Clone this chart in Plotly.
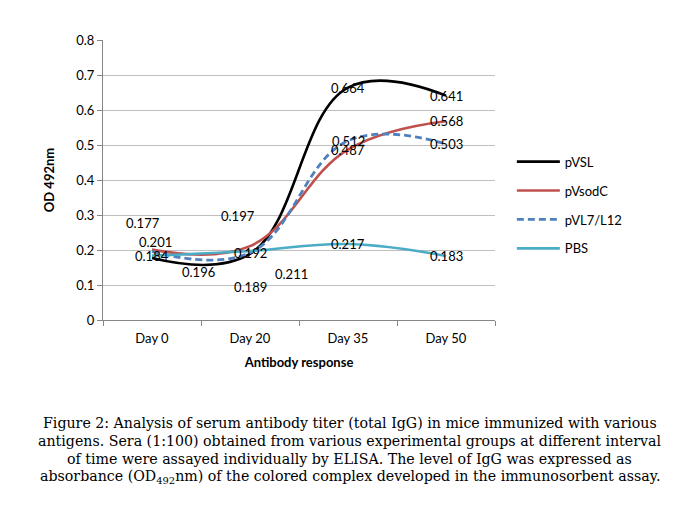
import plotly.graph_objects as go

categories = ["Day 0", "Day 20", "Day 35", "Day 50"]
series_names = ["pVSL", "pVsodC", "pVL7/L12", "PBS"]
pVSL = [0.177, 0.189, 0.664, 0.641]
pVsodC = [0.201, 0.211, 0.487, 0.568]
pVL7_L12 = [0.196, 0.192, 0.512, 0.503]
PBS = [0.184, 0.197, 0.217, 0.183]
y_ticks = [0, 0.1, 0.2, 0.3, 0.4, 0.5, 0.6, 0.7, 0.8]
y_tick_labels = ["0", "0.1", "0.2", "0.3", "0.4", "0.5", "0.6", "0.7", "0.8"]

values = [pVSL, pVsodC, pVL7_L12, PBS]
colors = ["#000000", "#C0504D", "#4F81BD", "#4BACC6"]
dashes = ["solid", "solid", "7px,4px", "solid"]
widths = [2.6, 2.6, 2.8, 2.6]

# label offsets in pixels (dx, dy up) per series per point, mimicking manually moved labels
label_offsets = [
    [(-9, 35), (0, -33), (0, 0), (0, 0)],
    [(3, 8), (41, -28), (0, 0), (0, 0)],
    [(46, -21), (0, 0), (0, 0), (0, 0)],
    [(0, 0), (-12, 35), (0, 0), (0, 0)],
]

FONT = "Lato"
fig = go.Figure()
for i, (name, vals) in enumerate(zip(series_names, values)):
    fig.add_trace(go.Scatter(
        x=categories, y=vals, name=name, mode="lines",
        line=dict(color=colors[i], width=widths[i], dash=dashes[i], shape="spline", smoothing=1.15),
        legendgroup=name, hoverinfo="skip",
    ))

annotations = []
for i, vals in enumerate(values):
    for j, v in enumerate(vals):
        dx, dy = label_offsets[i][j]
        annotations.append(dict(
            x=categories[j], y=v, xref="x", yref="y", text=f"{v:.3f}",
            showarrow=False, xshift=dx, yshift=dy, xanchor="center", yanchor="middle",
            font=dict(family=FONT, size=13, color="#000000"),
        ))

caption_lines = [
    "Figure 2: Analysis of serum antibody titer (total IgG) in mice immunized with various",
    "antigens. Sera (1:100) obtained from various experimental groups at different interval",
    "of time were assayed individually by ELISA. The level of IgG was expressed as",
    "absorbance (OD<sub>492</sub>nm) of the colored complex developed in the immunosorbent assay.",
]
cap_y = [-0.368, -0.432, -0.496, -0.561]
for line, yy in zip(caption_lines, cap_y):
    annotations.append(dict(
        x=0.629, y=yy, xref="paper", yref="paper", text=line, showarrow=False,
        xanchor="center", yanchor="middle",
        font=dict(family="DejaVu Serif", size=14.2, color="#000000"),
    ))

fig.update_layout(
    width=665, height=497,
    margin=dict(l=95, r=178, t=32, b=185, autoexpand=False),
    paper_bgcolor="white", plot_bgcolor="white",
    font=dict(family=FONT, size=13, color="#000000"),
    showlegend=True,
    legend=dict(x=1.043, y=0.41, xanchor="left", yanchor="middle",
                font=dict(family=FONT, size=13), itemwidth=43, tracegroupgap=9,
                bgcolor="rgba(0,0,0,0)"),
    annotations=annotations,
    xaxis=dict(
        type="category", range=[-0.5, 3.5], tickson="boundaries", ticks="outside",
        ticklen=5, tickcolor="#868686", showline=True, linecolor="#868686", linewidth=1,
        showgrid=False, tickfont=dict(family=FONT, size=13), automargin=False,
        ticklabelstandoff=6,
        title=dict(text="<b>Antibody response</b>", font=dict(family=FONT, size=13), standoff=13),
    ),
    yaxis=dict(
        range=[0, 0.8], tickvals=y_ticks, ticktext=y_tick_labels, ticks="outside",
        ticklen=5, tickcolor="#868686", showline=True, linecolor="#868686", linewidth=1,
        showgrid=True, gridcolor="#BFBFBF", gridwidth=1, zeroline=False,
        tickfont=dict(family=FONT, size=13), automargin=False,
        title=dict(text="<b>OD 492nm</b>", font=dict(family=FONT, size=13), standoff=18),
    ),
)

fig.write_html("out.html")
